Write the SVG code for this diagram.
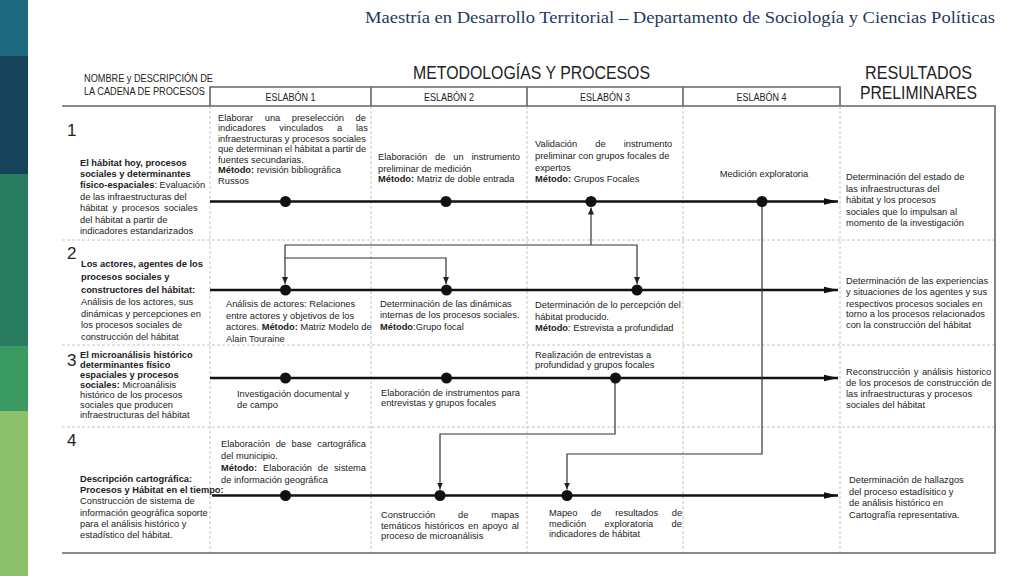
<svg xmlns="http://www.w3.org/2000/svg" width="1024" height="576" viewBox="0 0 1024 576">
<style>
.t{font-family:"Liberation Sans",Arial,sans-serif;font-size:9.3px;fill:#222}
.b{font-weight:bold}
.num{font-family:"Liberation Sans",Arial,sans-serif;font-size:17px;fill:#222}
.hd{font-family:"Liberation Sans",Arial,sans-serif;fill:#222}
.ml{stroke:#111;stroke-width:2.4;fill:none}
.cn{stroke:#333;stroke-width:1.2;fill:none}
.dash{stroke:#c4c4c4;stroke-width:1;stroke-dasharray:3 2;fill:none}
.frame{stroke:#666;stroke-width:1.6;fill:none}
.dot{fill:#111}
</style>
<defs>
<marker id="ah" markerUnits="userSpaceOnUse" markerWidth="14" markerHeight="8" viewBox="0 0 14 8" refX="14" refY="4" orient="auto"><path d="M0,0.8 L14,4 L0,7.2 z" fill="#111"/></marker>
<marker id="sa" markerUnits="userSpaceOnUse" markerWidth="7" markerHeight="6" viewBox="0 0 7 6" refX="7" refY="3" orient="auto"><path d="M0,0 L7,3 L0,6 z" fill="#222"/></marker>
</defs>
<rect width="1024" height="576" fill="#fff"/>
<g id="sidebar">
<rect x="0" y="0" width="28" height="56" fill="#1d6a80"/>
<rect x="0" y="56" width="28" height="118" fill="#17435a"/>
<rect x="0" y="174" width="28" height="172" fill="#2a7c60"/>
<rect x="0" y="346" width="28" height="65" fill="#3b9a62"/>
<rect x="0" y="411" width="28" height="165" fill="#8cc06a"/>
</g>
<text x="995" y="23" text-anchor="end" textLength="630" lengthAdjust="spacingAndGlyphs" style="font-family:'Liberation Serif','Times New Roman',serif;font-size:17.5px;fill:#1f3a60">Maestría en Desarrollo Territorial – Departamento de Sociología y Ciencias Políticas</text>
<g id="table">
<text class="hd" x="84" y="81.5" font-size="10" textLength="129" lengthAdjust="spacingAndGlyphs">NOMBRE y DESCRIPCIÓN DE</text>
<text class="hd" x="84" y="95" font-size="10" textLength="121" lengthAdjust="spacingAndGlyphs">LA CADENA DE PROCESOS</text>
<text class="hd" x="413" y="79" font-size="18" textLength="237" lengthAdjust="spacingAndGlyphs">METODOLOGÍAS Y PROCESOS</text>
<text class="hd" x="865" y="79" font-size="18" textLength="107" lengthAdjust="spacingAndGlyphs">RESULTADOS</text>
<text class="hd" x="860" y="99" font-size="18" textLength="117" lengthAdjust="spacingAndGlyphs">PRELIMINARES</text>
<path class="frame" d="M210,106 V87 H840 V106 M371,87 V106 M527,87 V106 M683,87 V106"/>
<text class="hd" x="290.5" y="101" font-size="10" text-anchor="middle" textLength="50" lengthAdjust="spacingAndGlyphs">ESLABÓN 1</text>
<text class="hd" x="449" y="101" font-size="10" text-anchor="middle" textLength="50" lengthAdjust="spacingAndGlyphs">ESLABÓN 2</text>
<text class="hd" x="605" y="101" font-size="10" text-anchor="middle" textLength="50" lengthAdjust="spacingAndGlyphs">ESLABÓN 3</text>
<text class="hd" x="761.5" y="101" font-size="10" text-anchor="middle" textLength="50" lengthAdjust="spacingAndGlyphs">ESLABÓN 4</text>
<path class="dash" d="M210,106 V553 M371,106 V553 M527,106 V553 M683,106 V553 M840,106 V553 M62,240 H995 M62,345 H995 M62,427 H995"/>
<path class="frame" d="M62,106 H995 V553 H62"/>
</g>
<g id="connectors">
<path class="ml" d="M210,201.5 H838" marker-end="url(#ah)"/>
<path class="ml" d="M210,290 H838" marker-end="url(#ah)"/>
<path class="ml" d="M210,378 H838" marker-end="url(#ah)"/>
<path class="ml" d="M212,495.5 H838" marker-end="url(#ah)"/>
<path class="cn" d="M591,245 V207.5" marker-end="url(#sa)"/>
<path class="cn" d="M591,245 H285 V284" marker-end="url(#sa)"/>
<path class="cn" d="M591,245 H637 V284" marker-end="url(#sa)"/>
<path class="cn" d="M285,258 H446 V284" marker-end="url(#sa)"/>
<path class="cn" d="M762,201 V454 H567 V489.5" marker-end="url(#sa)"/>
<path class="cn" d="M615,378 V434 H440 V489.5" marker-end="url(#sa)"/>
</g>
<g id="row1">
<text class="num" x="67" y="136">1</text>
<text class="t" x="80"><tspan class="b" y="165.5">El hábitat hoy, procesos</tspan><tspan class="b" x="80" y="176.9">sociales y determinantes</tspan><tspan x="80" y="188.3"><tspan class="b">físico-espaciales</tspan>: Evaluación</tspan><tspan x="80" y="199.7">de las infraestructuras del</tspan><tspan x="80" y="211.1" style="word-spacing:2px">hábitat y procesos sociales</tspan><tspan x="80" y="222.5">del hábitat a partir de</tspan><tspan x="80" y="233.9">indicadores estandarizados</tspan></text>
</g>
<g id="r1e1">
<text class="t" x="218" y="120.5" style="word-spacing:9px">Elaborar una preselección de</text>
<text class="t" x="218" y="131" style="word-spacing:11.2px">indicadores vinculados a las</text>
<text class="t" x="218" y="141.5">infraestructuras y procesos sociales</text>
<text class="t" x="218" y="152" style="word-spacing:-0.2px">que determinan el hábitat a partir de</text>
<text class="t" x="218" y="162.5">fuentes secundarias.</text>
<text class="t" x="218" y="173"><tspan class="b">Método:</tspan> revisión bibliográfica</text>
<text class="t" x="218" y="183.5">Russos</text>
<circle class="dot" cx="285.5" cy="201.5" r="5.5"/>
</g>
<g id="r1e2">
<text class="t" x="378" y="160" style="word-spacing:5.3px">Elaboración de un instrumento</text>
<text class="t" x="378" y="171.5">preliminar de medición</text>
<text class="t" x="378" y="182.3"><tspan class="b">Método:</tspan> Matriz de doble entrada</text>
<circle class="dot" cx="446" cy="201.5" r="5.5"/>
</g>
<g id="r1e3">
<text class="t" x="535" y="147.2" style="word-spacing:15.5px">Validación de instrumento</text>
<text class="t" x="535" y="158.9">preliminar con grupos focales de</text>
<text class="t" x="535" y="170.5">expertos</text>
<text class="t" x="535" y="182.2"><tspan class="b">Método:</tspan> Grupos Focales</text>
<circle class="dot" cx="591" cy="201.5" r="5.5"/>
</g>
<g id="r1e4">
<text class="t" x="764" y="177" text-anchor="middle">Medición exploratoria</text>
<circle class="dot" cx="762" cy="201.5" r="5.5"/>
</g>
<g id="r1res">
<text class="t" x="846"><tspan y="180">Determinación del estado de</tspan><tspan x="846" y="191.6">las infraestructuras del</tspan><tspan x="846" y="203.2">hábitat y los procesos</tspan><tspan x="846" y="214.8">sociales que lo impulsan al</tspan><tspan x="846" y="226.4">momento de la investigación</tspan></text>
</g>
<g id="row2">
<text class="num" x="67" y="259">2</text>
<text class="t" x="81"><tspan class="b" y="267.3">Los actores, agentes de los</tspan><tspan class="b" x="81" y="280">procesos sociales y</tspan><tspan class="b" x="81" y="292.6">constructores del hábitat:</tspan><tspan x="81" y="305">Análisis de los actores, sus</tspan><tspan x="81" y="316.6">dinámicas y percepciones en</tspan><tspan x="81" y="328.3">los procesos sociales de</tspan><tspan x="81" y="340">construcción del hábitat</tspan></text>
</g>
<g id="r2e1">
<circle class="dot" cx="285.5" cy="290" r="5.5"/>
<text class="t" x="226"><tspan y="306.6">Análisis de actores: Relaciones</tspan><tspan x="226" y="318.6">entre actores y objetivos de los</tspan><tspan x="226" y="330.3">actores. <tspan class="b">Método:</tspan> Matriz Modelo de</tspan><tspan x="226" y="341.6">Alain Touraine</tspan></text>
</g>
<g id="r2e2">
<circle class="dot" cx="446.5" cy="290" r="5.5"/>
<text class="t" x="380"><tspan y="306.6">Determinación de las dinámicas</tspan><tspan x="380" y="318.3">internas de los procesos sociales.</tspan><tspan x="380" y="329.6"><tspan class="b">Método</tspan>:Grupo focal</tspan></text>
</g>
<g id="r2e3">
<circle class="dot" cx="637" cy="290" r="5.5"/>
<text class="t" x="535"><tspan y="308.3">Determinación de lo percepción del</tspan><tspan x="535" y="319.5">hábitat producido.</tspan><tspan x="535" y="331"><tspan class="b">Método</tspan>: Estrevista a profundidad</tspan></text>
</g>
<g id="r2res">
<text class="t" x="846"><tspan y="284">Determinación de las experiencias</tspan><tspan x="846" y="295">y situaciones de los agentes y sus</tspan><tspan x="846" y="306.6">respectivos procesos sociales en</tspan><tspan x="846" y="317.3">torno a los procesos relacionados</tspan><tspan x="846" y="328.3">con la construcción del hábitat</tspan></text>
</g>
<g id="row3">
<text class="num" x="67" y="366">3</text>
<text class="t" x="80"><tspan class="b" y="358.3">El microanálisis histórico</tspan><tspan class="b" x="80" y="368.3">determinantes físico</tspan><tspan class="b" x="80" y="377.6">espaciales y procesos</tspan><tspan x="80" y="387.6"><tspan class="b">sociales:</tspan> Microanálisis</tspan><tspan x="80" y="397.6">histórico de los procesos</tspan><tspan x="80" y="407.6">sociales que producen</tspan><tspan x="80" y="417.6">infraestructuras del hábitat</tspan></text>
</g>
<g id="r3e1">
<circle class="dot" cx="285.5" cy="378" r="5.5"/>
<text class="t" x="237"><tspan y="396.6">Investigación documental y</tspan><tspan x="237" y="408.3">de campo</tspan></text>
</g>
<g id="r3e2">
<circle class="dot" cx="446.5" cy="378" r="5.5"/>
<text class="t" x="381"><tspan y="395.6">Elaboración de instrumentos para</tspan><tspan x="381" y="406">entrevistas y grupos focales</tspan></text>
</g>
<g id="r3e3">
<circle class="dot" cx="615.5" cy="378" r="5.5"/>
<text class="t" x="535"><tspan y="358.3">Realización de entrevistas a</tspan><tspan x="535" y="368.3">profundidad y grupos focales</tspan></text>
</g>
<g id="r3res">
<text class="t" x="846"><tspan y="375" style="word-spacing:1px">Reconstrucción y análisis historico</tspan><tspan x="846" y="385.6">de los procesos de construcción de</tspan><tspan x="846" y="396.6">las infraestructuras y procesos</tspan><tspan x="846" y="408.3">sociales del hábitat</tspan></text>
</g>
<g id="row4">
<text class="num" x="67" y="446">4</text>
<text class="t" x="80"><tspan class="b" y="481.6">Descripción cartográfica:</tspan><tspan class="b" x="80" y="493.3">Procesos y Hábitat en el tiempo:</tspan><tspan x="80" y="504.3">Construcción de sistema de</tspan><tspan x="80" y="515.6">información geográfica soporte</tspan><tspan x="80" y="526.6">para el análisis histórico y</tspan><tspan x="80" y="538.3">estadístico del hábitat.</tspan></text>
</g>
<g id="r4e1">
<text class="t" x="221" y="447.3" style="word-spacing:3px">Elaboración de base cartográfica</text>
<text class="t" x="221" y="459">del municipio.</text>
<text class="t" x="221" y="471" style="word-spacing:3.2px"><tspan class="b">Método:</tspan> Elaboración de sistema</text>
<text class="t" x="221" y="482.6">de información geográfica</text>
<circle class="dot" cx="285.5" cy="495.5" r="5.5"/>
</g>
<g id="r4e2">
<circle class="dot" cx="440" cy="495.5" r="5.5"/>
<text class="t" x="381" y="517.6" style="word-spacing:20.2px">Construcción de mapas</text>
<text class="t" x="381" y="529" style="word-spacing:1.4px">temáticos históricos en apoyo al</text>
<text class="t" x="381" y="539.3">proceso de microanálisis</text>
</g>
<g id="r4e3">
<circle class="dot" cx="567" cy="495.5" r="5.5"/>
<text class="t" x="549" y="515.6" style="word-spacing:11.1px">Mapeo de resultados de</text>
<text class="t" x="549" y="526.6" style="word-spacing:15.8px">medición exploratoria de</text>
<text class="t" x="549" y="537.3">indicadores de hábitat</text>
</g>
<g id="r4res">
<text class="t" x="849"><tspan y="483">Determinación de hallazgos</tspan><tspan x="849" y="494.5">del proceso estadísitico y</tspan><tspan x="849" y="506">de análisis histórico en</tspan><tspan x="849" y="517.5">Cartografía representativa.</tspan></text>
</g>
</svg>
